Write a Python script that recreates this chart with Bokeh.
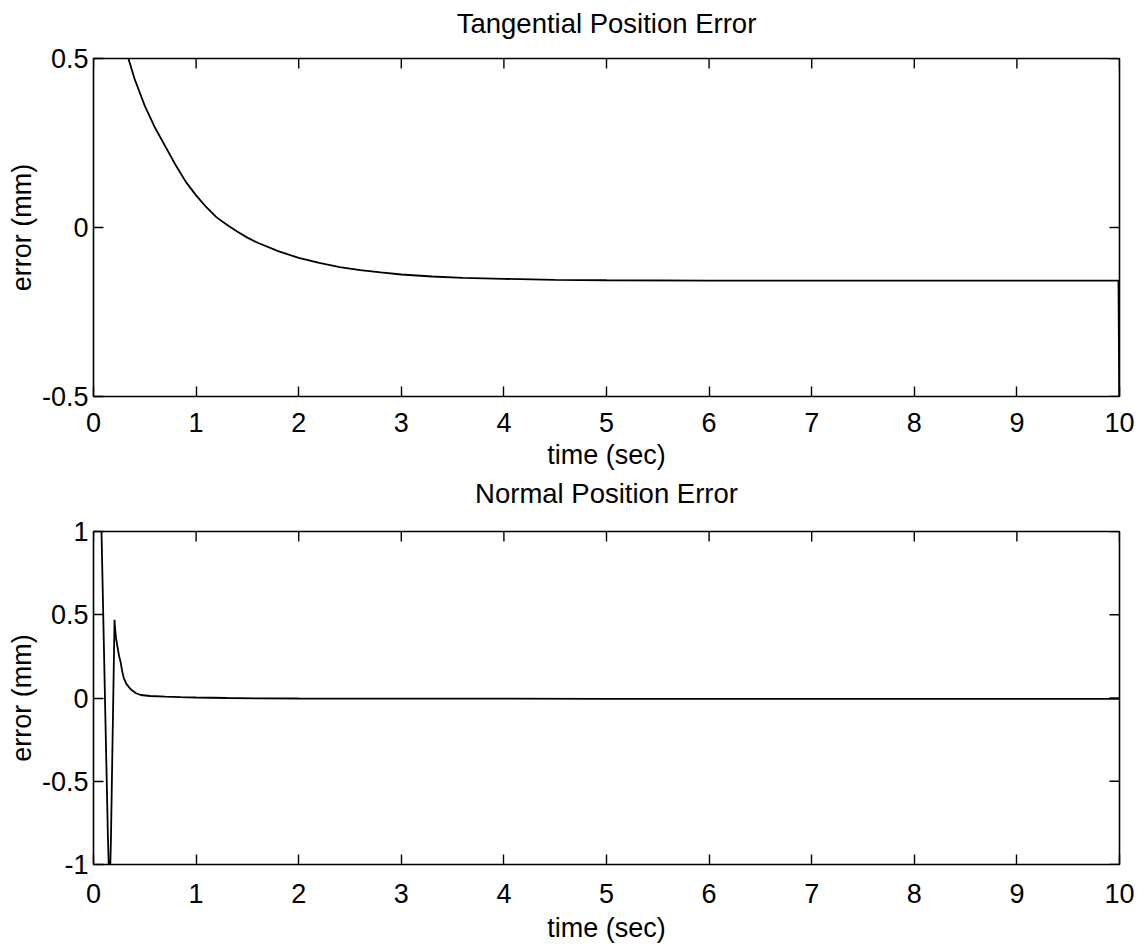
import math
from bokeh.plotting import figure
from bokeh.layouts import column
from bokeh.models import Range1d, FixedTicker, CustomJSTickFormatter
from bokeh.embed import file_html
from bokeh.resources import INLINE

# ---------------- data ----------------
time_tan = [0.0, 0.1, 0.2, 0.3, 0.34, 0.4, 0.5, 0.6, 0.7, 0.8, 0.9, 1.0, 1.1, 1.2,
            1.3, 1.4, 1.5, 1.6, 1.8, 2.0, 2.2, 2.4, 2.6, 2.8, 3.0, 3.3, 3.6, 4.0,
            4.5, 5.0, 6.0, 7.0, 8.0, 9.0, 9.99, 10.0]
err_tan = [0.90, 0.76, 0.64, 0.54, 0.50, 0.44, 0.36, 0.295, 0.24, 0.185, 0.135, 0.095,
           0.06, 0.03, 0.008, -0.012, -0.03, -0.045, -0.07, -0.09, -0.105, -0.117,
           -0.126, -0.133, -0.139, -0.145, -0.149, -0.152, -0.155, -0.156, -0.157,
           -0.157, -0.157, -0.157, -0.157, -0.62]

time_norm = [0.0, 0.05, 0.078, 0.1, 0.12, 0.14, 0.148, 0.156, 0.164, 0.17, 0.18, 0.19,
             0.2, 0.205, 0.21, 0.22, 0.23, 0.25, 0.263, 0.28, 0.295, 0.32, 0.36, 0.41,
             0.46, 0.55, 0.7, 0.85, 1.0, 1.3, 1.6, 2.0, 3.0, 4.0, 5.0, 6.0, 7.0, 8.0,
             9.0, 10.0]
err_norm = [2.2, 1.5, 1.0, 0.35, -0.24, -0.82, -1.0, -1.08, -1.0, -0.85, -0.47, -0.1,
            0.28, 0.47, 0.42, 0.36, 0.32, 0.25, 0.22, 0.16, 0.12, 0.085, 0.054, 0.03,
            0.018, 0.012, 0.008, 0.005, 0.003, 0.0, -0.002, -0.003, -0.004, -0.004,
            -0.005, -0.005, -0.005, -0.005, -0.005, -0.005]

x_ticks = [0, 1, 2, 3, 4, 5, 6, 7, 8, 9, 10]
x_lim = (0, 10)
y_ticks_tan = [-0.5, 0, 0.5]
y_lim_tan = (-0.5, 0.5)
y_ticks_norm = [-1, -0.5, 0, 0.5, 1]
y_lim_norm = (-1, 1)

titles = ["Tangential Position Error", "Normal Position Error"]
x_label = "time (sec)"
y_label = "error (mm)"

FONT = "Liberation Sans"
FS = "27px"
FS_TITLE = "27.5px"
W = 1146
LEFT = 93
RIGHT = W - 1119


def make_fig(title, xs, ys, yticks, ylim, border_top, frame_h, border_bottom,
             title_standoff, tick_standoff, label_standoff, top_margin, transparent):
    p = figure(width=W, height=border_top + frame_h + border_bottom,
               x_range=Range1d(*x_lim), y_range=Range1d(*ylim),
               output_backend="svg", toolbar_location=None,
               min_border_left=LEFT, min_border_right=RIGHT,
               min_border_top=border_top, min_border_bottom=border_bottom,
               x_axis_label=x_label, y_axis_label=y_label,
               margin=(top_margin, 0, 0, 0))
    p.title.text = title
    p.title.align = "center"
    p.title.vertical_align = "top"
    p.title.text_font = FONT
    p.title.text_font_size = FS_TITLE
    p.title.text_font_style = "normal"
    p.title.text_color = "black"
    p.title.standoff = title_standoff
    p.grid.visible = False
    p.outline_line_color = "black"
    p.outline_line_width = 1.6
    p.background_fill_color = "white"
    p.border_fill_color = None if transparent else "white"

    fmt = CustomJSTickFormatter(code="return tick.toString();")
    for ax, ticks in ((p.xaxis[0], x_ticks), (p.yaxis[0], yticks)):
        ax.ticker = FixedTicker(ticks=ticks)
        ax.formatter = fmt
        ax.major_tick_in = 10
        ax.major_tick_out = 0
        ax.minor_tick_line_color = None
        ax.major_tick_line_color = "black"
        ax.major_tick_line_width = 1.4
        ax.axis_line_color = None
        ax.major_label_text_font = FONT
        ax.major_label_text_font_size = FS
        ax.major_label_text_color = "black"
        ax.axis_label_text_font = FONT
        ax.axis_label_text_font_size = FS
        ax.axis_label_text_font_style = "normal"
        ax.axis_label_text_color = "black"
    p.xaxis[0].major_label_standoff = tick_standoff
    p.xaxis[0].axis_label_standoff = label_standoff
    p.yaxis[0].major_label_standoff = 5
    p.yaxis[0].axis_label_standoff = 2

    # mirrored inward ticks on the top and right edges (clipped to the frame)
    p.scatter(x=x_ticks, y=[ylim[1]] * len(x_ticks), marker="dash", size=20,
              angle=math.pi / 2, line_color="black", line_width=1.4)
    p.scatter(x=[x_lim[1]] * len(yticks), y=yticks, marker="dash", size=20,
              line_color="black", line_width=1.4)

    p.line(xs, ys, line_color="black", line_width=1.8)
    return p


p1 = make_fig(titles[0], time_tan, err_tan, y_ticks_tan, y_lim_tan,
              68, 338, 81, 35, 16, 5, -10, False)
p2 = make_fig(titles[1], time_norm, err_norm, y_ticks_norm, y_lim_norm,
              74, 335, 80, 42, 19, 7, -21, True)

layout = column(p1, p2, spacing=0)
open("out.html", "w").write(file_html(layout, INLINE))
